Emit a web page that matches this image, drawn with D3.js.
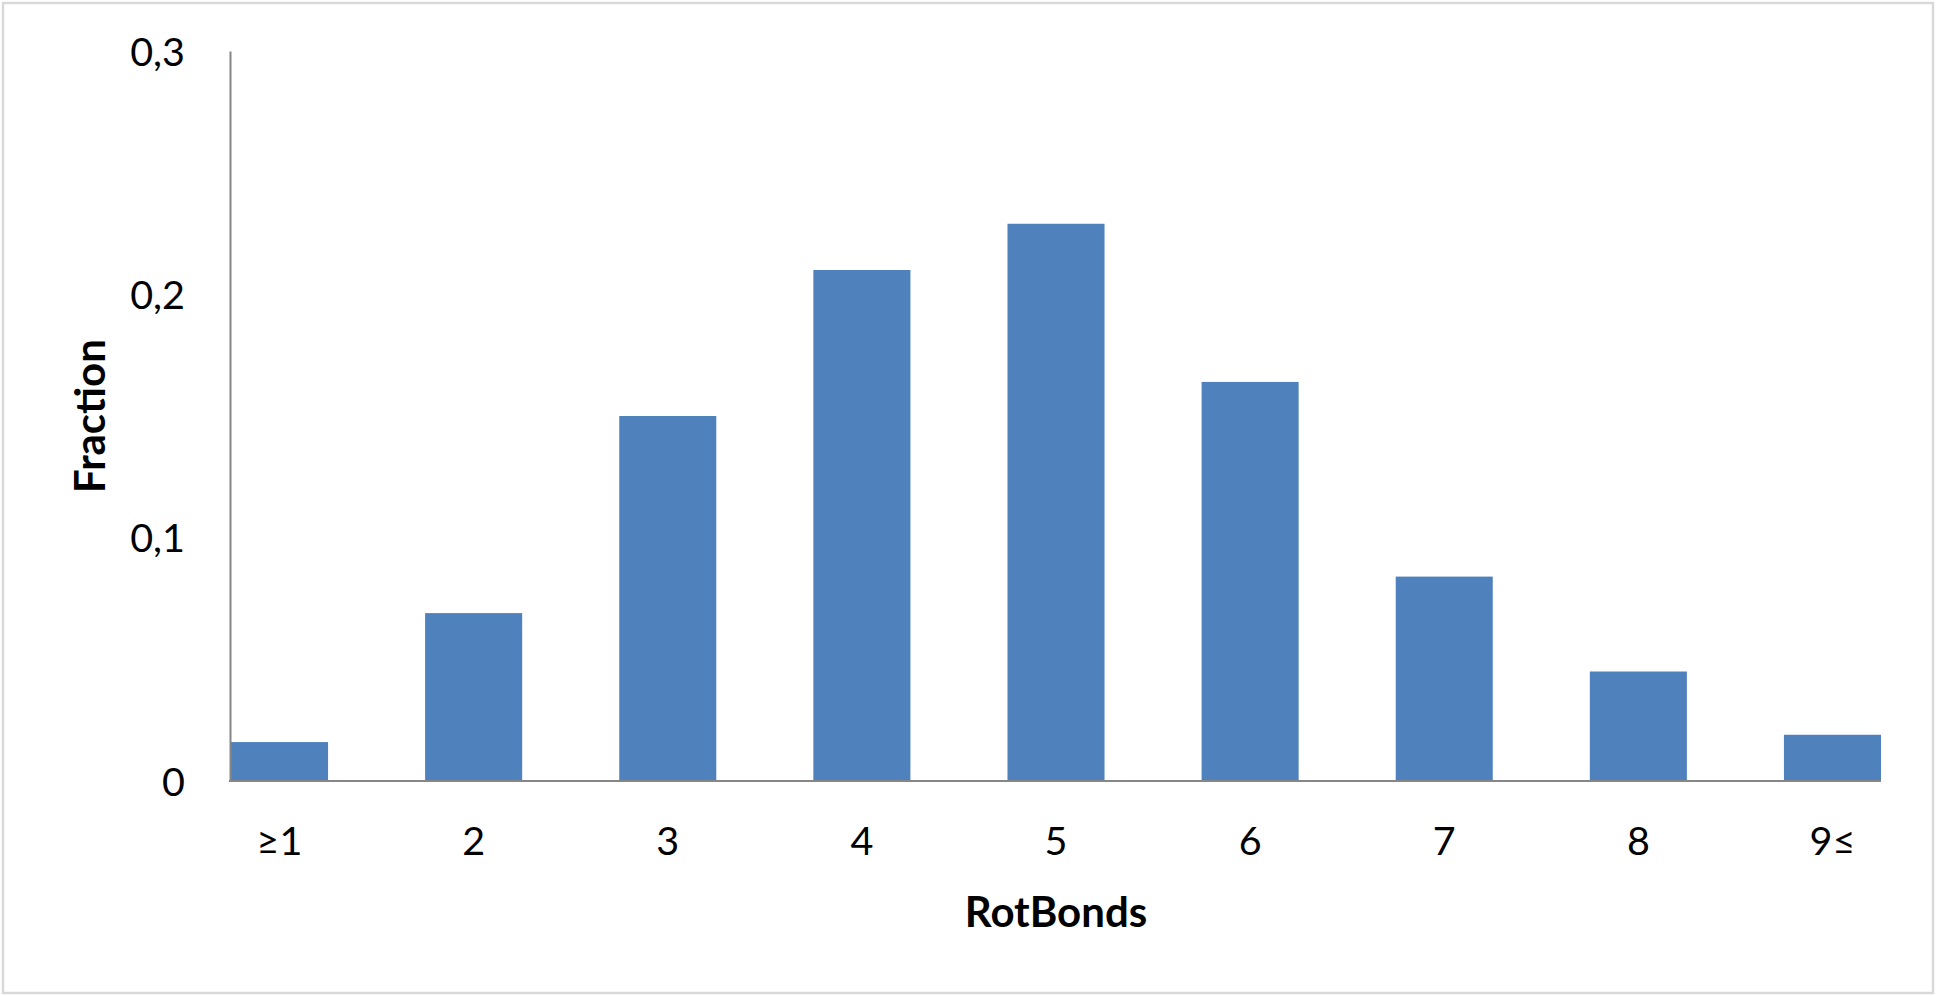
<!DOCTYPE html>
<html>
<head>
<meta charset="utf-8">
<script src="https://cdn.jsdelivr.net/npm/d3@7/dist/d3.min.js"></script>
<style>
  html, body { margin: 0; padding: 0; background: #fff; }
  svg { display: block; }
</style>
</head>
<body>
<script>
const categories = ["≥1", "2", "3", "4", "5", "6", "7", "8", "9≤"];
const fractions = [0.016, 0.069, 0.150, 0.210, 0.229, 0.164, 0.084, 0.045, 0.019];
const yTickValues = [0, 0.1, 0.2, 0.3];
const yTickLabels = ["0", "0,1", "0,2", "0,3"];
const xTitle = "RotBonds";
const yTitle = "Fraction";

const W = 1936, H = 996;
const svg = d3.select("body").append("svg").attr("width", W).attr("height", H);

// outer border
svg.append("rect").attr("x", 3).attr("y", 3).attr("width", W - 6).attr("height", H - 6)
  .attr("fill", "#fff").attr("stroke", "#d9d9d9").attr("stroke-width", 2.5);

const plotLeft = 231, plotRight = 1881, plotTop = 51, plotBottom = 781;

const x = d3.scaleBand().domain(categories).range([plotLeft, plotRight])
  .paddingInner(0.5).paddingOuter(0);
const y = d3.scaleLinear().domain([0, 0.3]).range([plotBottom, plotTop]);

const font = "Lato, 'Open Sans', sans-serif";

// bars
svg.append("g").selectAll("rect").data(fractions).join("rect")
  .attr("x", (d, i) => x(categories[i]))
  .attr("y", d => y(d))
  .attr("width", x.bandwidth())
  .attr("height", d => y(0) - y(d))
  .attr("fill", "#4f81bd");

// y axis
const yAxis = svg.append("g").attr("transform", `translate(${plotLeft - 1},0)`)
  .call(d3.axisLeft(y).tickValues(yTickValues)
    .tickFormat((d, i) => yTickLabels[i]).tickSize(0).tickSizeOuter(0).tickPadding(45));
yAxis.select(".domain").attr("stroke", "#868686").attr("stroke-width", 2);
yAxis.selectAll("text").attr("font-family", font).attr("font-size", 39.5).attr("fill", "#000")
  .attr("dy", "0.36em");

// x axis
const xAxis = svg.append("g").attr("transform", `translate(0,${plotBottom})`)
  .call(d3.axisBottom(x).tickSize(0).tickSizeOuter(0));
xAxis.select(".domain").attr("stroke", "#868686").attr("stroke-width", 2)
  .attr("d", `M${plotLeft - 2},0H${plotRight}`);
xAxis.selectAll("text").attr("font-family", font).attr("font-size", 39.5).attr("fill", "#000")
  .attr("y", 60).attr("dy", "0.36em");

// axis titles
svg.append("text").attr("x", (plotLeft + plotRight) / 2 - 0).attr("y", 912)
  .attr("text-anchor", "middle").attr("dy", "0.36em")
  .attr("font-family", font).attr("font-weight", "bold").attr("font-size", 42)
  .attr("fill", "#000").text(xTitle);

svg.append("text").attr("transform", `translate(90,${(plotTop + plotBottom) / 2}) rotate(-90)`)
  .attr("text-anchor", "middle").attr("dy", "0.36em")
  .attr("font-family", font).attr("font-weight", "bold").attr("font-size", 42)
  .attr("fill", "#000").text(yTitle);
</script>
</body>
</html>
